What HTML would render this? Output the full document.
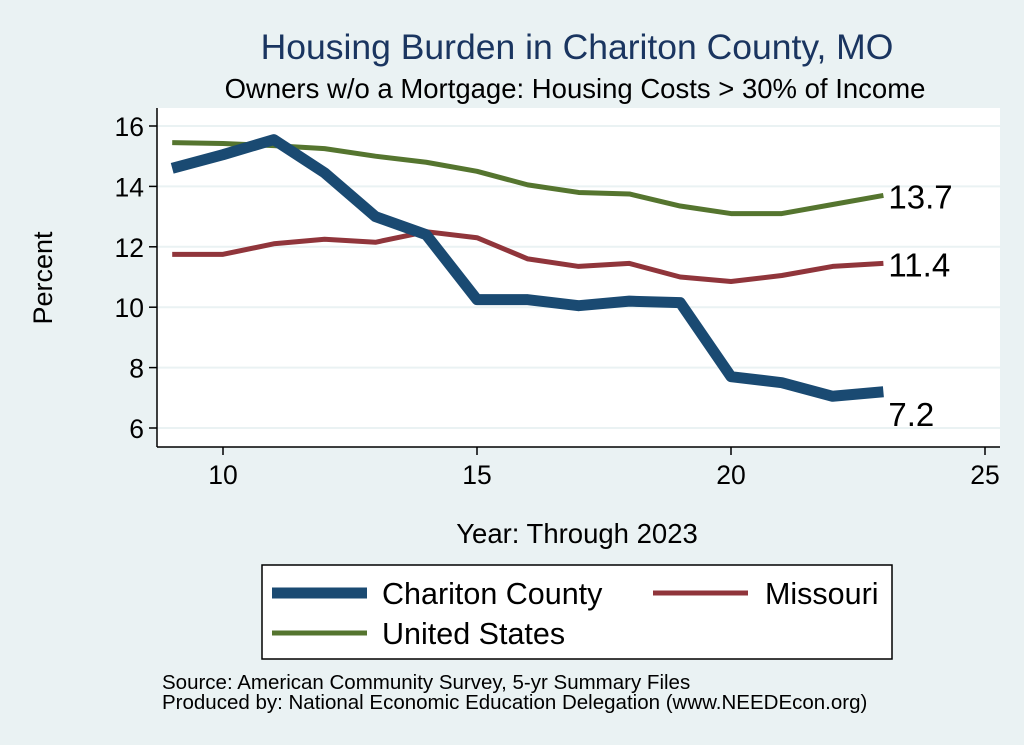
<!DOCTYPE html>
<html><head><meta charset="utf-8"><style>
body{margin:0;background:#eaf2f3;}
svg{display:block;font-family:"Liberation Sans",sans-serif;}
</style></head><body>
<svg id="c" width="1024" height="745">
<rect x="0" y="0" width="1024" height="745" fill="#eaf2f3"/>
<text x="577" y="59" text-anchor="middle" font-size="35.5" fill="#1a3560">Housing Burden in Chariton County, MO</text>
<text x="575" y="98" text-anchor="middle" font-size="27.5" fill="#000">Owners w/o a Mortgage: Housing Costs &gt; 30% of Income</text>
<rect x="157" y="108" width="843" height="339" fill="#fff"/>
<g id="grid"></g><g id="axes"></g><g id="lines"></g>
<text x="52" y="278" text-anchor="middle" font-size="27" transform="rotate(-90 52 278)">Percent</text>
<text x="577" y="543" text-anchor="middle" font-size="27.5">Year: Through 2023</text>
<g>
<rect x="262" y="565" width="630" height="94" fill="#fff" stroke="#000" stroke-width="1.5"/>
<line x1="272" y1="593" x2="367" y2="593" stroke="#1a4a72" stroke-width="11"/>
<text x="382" y="604" font-size="30.5">Chariton County</text>
<line x1="653" y1="593" x2="748" y2="593" stroke="#90353b" stroke-width="5"/>
<text x="765" y="604" font-size="30.5">Missouri</text>
<line x1="272" y1="633" x2="367" y2="633" stroke="#55752f" stroke-width="5"/>
<text x="382" y="644" font-size="30.5">United States</text>
</g>
<text x="162" y="689" font-size="20.5">Source: American Community Survey, 5-yr Summary Files</text>
<text x="162" y="709" font-size="20.5">Produced by: National Economic Education Delegation (www.NEEDEcon.org)</text>
</svg>
<script>
const years=[9,10,11,12,13,14,15,16,17,18,19,20,21,22,23];
const chariton=[14.6,15.05,15.55,14.45,13.0,12.4,10.25,10.25,10.05,10.2,10.15,7.7,7.5,7.05,7.2];
const missouri=[11.75,11.75,12.1,12.25,12.15,12.5,12.3,11.6,11.35,11.45,11.0,10.85,11.05,11.35,11.45];
const us=[15.45,15.42,15.35,15.25,15.0,14.8,14.5,14.05,13.8,13.75,13.35,13.1,13.1,13.4,13.7];
const xTicks=[10,15,20,25];
const yTicks=[6,8,10,12,14,16];
const endLabels=["7.2","11.4","13.7"];
const NS="http://www.w3.org/2000/svg";
const X=v=>223+(v-10)*50.8, Y=v=>428-(v-6)*30.2;
function mk(t,a,p){const e=document.createElementNS(NS,t);for(const k in a)e.setAttribute(k,a[k]);p.appendChild(e);return e;}
const grid=document.getElementById('grid'),axes=document.getElementById('axes'),lines=document.getElementById('lines');
yTicks.forEach(t=>{
 const g=mk('line',{x1:157,x2:1000,y1:Y(t),y2:Y(t),stroke:'#eaf2f3','stroke-width':2},grid);
 
 
 const tk=mk('line',{x1:149,x2:157,y1:Y(t),y2:Y(t),stroke:'#000','stroke-width':1.5},axes);
 
 
 const l=mk('text',{x:144,y:Y(t)+10,'text-anchor':'end','font-size':26.5},axes);l.textContent=t;
 
 
});
xTicks.forEach(t=>{
 const tk=mk('line',{x1:X(t),x2:X(t),y1:447,y2:455,stroke:'#000','stroke-width':1.5},axes);
 
 
 const l=mk('text',{x:X(t),y:484,'text-anchor':'middle','font-size':26.5},axes);l.textContent=t;
 
 
});
const ya=mk('line',{x1:157,x2:157,y1:108,y2:447,stroke:'#000','stroke-width':1.5},axes);


const xa=mk('line',{x1:157,x2:1000,y1:447,y2:447,stroke:'#000','stroke-width':1.5},axes);


function series(vals,col,w,name){
 const p=mk('polyline',{points:vals.map((v,i)=>X(years[i])+','+Y(v)).join(' '),fill:'none',stroke:col,'stroke-width':w,'stroke-linejoin':'round'},lines);
 
 
}
series(us,'#55752f',5,'line-united-states');
series(missouri,'#90353b',5,'line-missouri');
series(chariton,'#1a4a72',11,'line-chariton-county');
const last=years.length-1;
[[chariton,endLabels[0],34],[missouri,endLabels[1],13],[us,endLabels[2],13]].forEach(([s,t,dy])=>{
 const l=mk('text',{x:X(years[last])+5,y:Y(s[last])+dy,'font-size':33},lines);l.textContent=t;
 
 
});
</script>
</body></html>
